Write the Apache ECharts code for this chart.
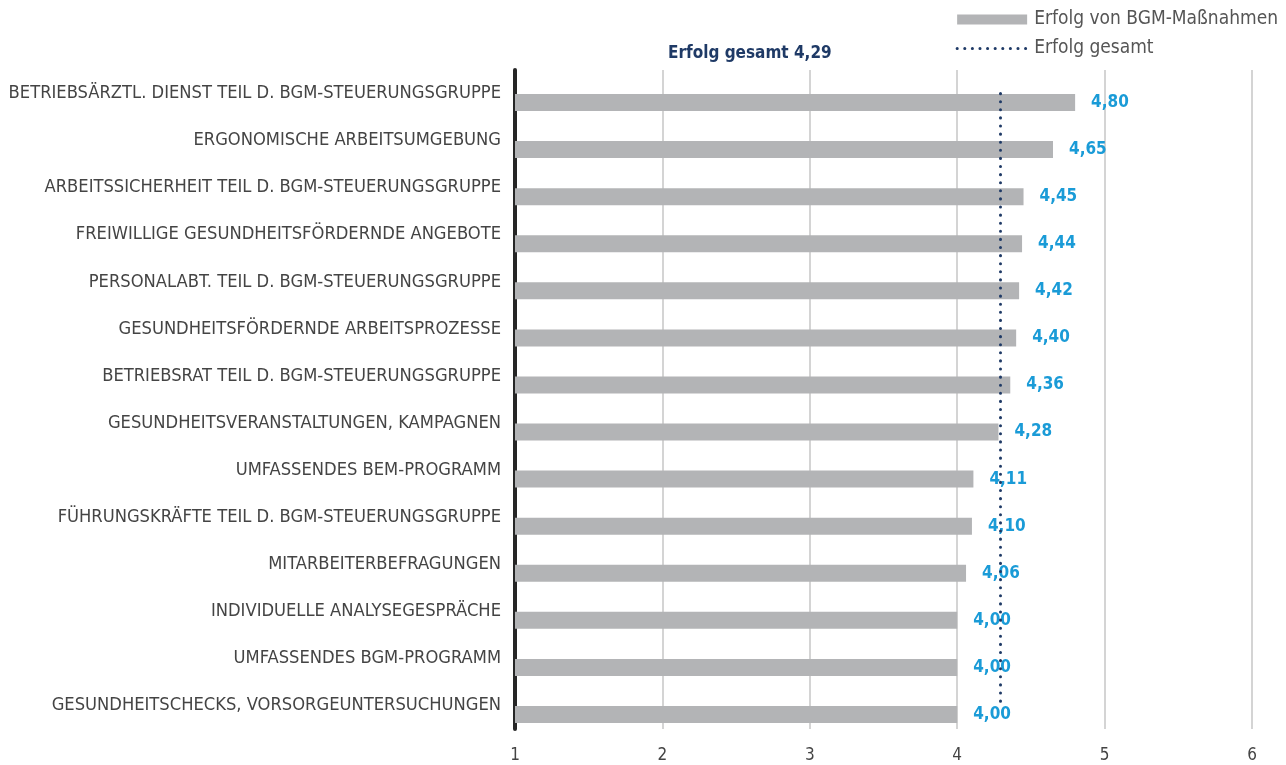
<!DOCTYPE html>
<html>
<head>
<meta charset="utf-8">
<script src="https://cdn.jsdelivr.net/npm/echarts@6/dist/echarts.min.js"></script>
<style>
  html, body { margin: 0; padding: 0; background: #fff; }
  #chart { width: 1286px; height: 765px; }
</style>
</head>
<body>
<div id="chart"></div>
<script>
  // Kategorien (von oben nach unten)
  const categories = [
    'BETRIEBSÄRZTL. DIENST TEIL D. BGM-STEUERUNGSGRUPPE',
    'ERGONOMISCHE ARBEITSUMGEBUNG',
    'ARBEITSSICHERHEIT TEIL D. BGM-STEUERUNGSGRUPPE',
    'FREIWILLIGE GESUNDHEITSFÖRDERNDE ANGEBOTE',
    'PERSONALABT. TEIL D. BGM-STEUERUNGSGRUPPE',
    'GESUNDHEITSFÖRDERNDE ARBEITSPROZESSE',
    'BETRIEBSRAT TEIL D. BGM-STEUERUNGSGRUPPE',
    'GESUNDHEITSVERANSTALTUNGEN, KAMPAGNEN',
    'UMFASSENDES BEM-PROGRAMM',
    'FÜHRUNGSKRÄFTE TEIL D. BGM-STEUERUNGSGRUPPE',
    'MITARBEITERBEFRAGUNGEN',
    'INDIVIDUELLE ANALYSEGESPRÄCHE',
    'UMFASSENDES BGM-PROGRAMM',
    'GESUNDHEITSCHECKS, VORSORGEUNTERSUCHUNGEN'
  ];
  const erfolgValues = [4.80, 4.65, 4.45, 4.44, 4.42, 4.40, 4.36, 4.28, 4.11, 4.10, 4.06, 4.00, 4.00, 4.00];
  const erfolgGesamt = 4.29;
  const xMin = 1, xMax = 6, xStep = 1;

  const font = "'DejaVu Sans Condensed', 'Liberation Sans Narrow', sans-serif";
  const navy = '#1f3a66';
  const fmt = v => v.toFixed(2).replace('.', ',');

  const chart = echarts.init(document.getElementById('chart'));
  chart.setOption({
    animation: false,
    textStyle: { fontFamily: font },
    title: {
      text: 'Erfolg gesamt ' + fmt(erfolgGesamt),
      left: 663,
      top: 40,
      textStyle: { color: navy, fontSize: 17, fontWeight: 'bold', fontFamily: font }
    },
    legend: {
      orient: 'vertical',
      right: 3,
      top: 5,
      itemGap: 10,
      itemWidth: 70,
      itemHeight: 10,
      data: [
        { name: 'Erfolg von BGM-Maßnahmen', icon: 'rect' },
        { name: 'Erfolg gesamt', itemStyle: { opacity: 0 }, lineStyle: { width: 3 } }
      ],
      textStyle: { color: '#555', fontSize: 19, fontFamily: font, padding: [0, 0, 0, 2] }
    },
    grid: { left: 515, right: 34, top: 70, bottom: 36, containLabel: false },
    xAxis: {
      type: 'value',
      min: xMin,
      max: xMax,
      interval: xStep,
      axisLine: { show: false },
      axisTick: { show: false },
      axisLabel: { color: '#444', fontSize: 17, margin: 18 },
      splitLine: { lineStyle: { color: '#d4d4d4', width: 2 } }
    },
    yAxis: {
      type: 'category',
      data: categories,
      inverse: true,
      axisTick: { show: false },
      axisLine: { lineStyle: { color: '#262626', width: 4 } },
      axisLabel: { color: '#444', fontSize: 18.2, margin: 14 }
    },
    series: [
      {
        name: 'pad',
        type: 'bar',
        data: [],
        barWidth: 17,
        barGap: '6%'
      },
      {
        name: 'Erfolg von BGM-Maßnahmen',
        type: 'bar',
        data: erfolgValues,
        barWidth: 17,
        barGap: '6%',
        itemStyle: { color: '#b3b4b6' },
        label: {
          show: true,
          position: 'right',
          distance: 16,
          color: '#1a9bd7',
          fontSize: 17,
          fontWeight: 'bold',
          formatter: p => fmt(p.value)
        },
        z: 2
      },
      {
        name: 'Erfolg gesamt',
        type: 'line',
        data: [],
        symbol: 'none',
        itemStyle: { color: navy },
        lineStyle: { color: navy, width: 3, type: [0.1, 7.5], cap: 'round' },
        markLine: {
          silent: true,
          symbol: 'none',
          label: { show: false },
          lineStyle: { color: navy, width: 3, type: [0.1, 8], cap: 'round' },
          data: [[
            { coord: [erfolgGesamt, categories[0]] },
            { coord: [erfolgGesamt, categories[categories.length - 1]] }
          ]]
        },
        z: 5
      }
    ]
  });
</script>
</body>
</html>
